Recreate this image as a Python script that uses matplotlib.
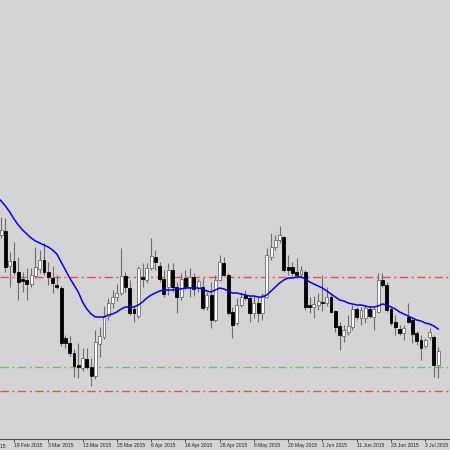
import numpy as np
import matplotlib.pyplot as plt

#* Daily candles, 5 Feb 2015 .. 8 Jul 2015 (bar 0 = 19 Feb 2015)
first_bar = -3

opens = [1222.5, 1224.5, 1207, 1209.5, 1204, 1200.5, 1200, 1198, 1202, 1205.5,
         1210, 1204, 1201, 1197.5, 1196, 1171, 1168.5, 1163.5, 1157.5, 1156,
         1160.5, 1156.5, 1152, 1168, 1171.5, 1182, 1188.5, 1191.5, 1193.5, 1202,
         1196, 1185.5, 1182, 1201.5, 1200, 1206, 1211.5, 1207, 1200.5, 1196.5,
         1205, 1196.5, 1191.5, 1201, 1196.5, 1201.5, 1196, 1196.5, 1186.5, 1192.5,
         1180, 1200, 1208.5, 1202.5, 1184, 1178.5, 1187.5, 1192.5, 1191, 1183.5,
         1188.5, 1183.5, 1191.5, 1211.5, 1216.5, 1220, 1221.5, 1206.5, 1206.5, 1204,
         1203, 1204, 1187.5, 1186.5, 1187.5, 1189, 1188.5, 1191.5, 1184.5, 1177,
         1172, 1174, 1176.5, 1185.5, 1181, 1181, 1185.5, 1181.5, 1184, 1200,
         1197.5, 1185.5, 1179, 1175.5, 1173.5, 1181.5, 1180, 1173.5, 1170, 1167,
         1171.5, 1171.5, 1157.5]
highs = [1231.5, 1231, 1214, 1219, 1211.5, 1204, 1206, 1206, 1216.5, 1215,
         1218.5, 1209, 1207, 1202.5, 1197, 1172.5, 1172, 1165.5, 1168.5, 1166,
         1166, 1161, 1175, 1176.5, 1187, 1191, 1195, 1198, 1216, 1204,
         1200, 1187.5, 1207, 1208.5, 1208.5, 1221, 1215, 1209, 1205, 1208.5,
         1208.5, 1199, 1203.5, 1205, 1206, 1203.5, 1200.5, 1201, 1194, 1199,
         1202.5, 1212.5, 1211.5, 1203.5, 1186.5, 1191, 1194, 1195, 1192, 1192.5,
         1191.5, 1193.5, 1216, 1223.5, 1222.5, 1227, 1222, 1212.5, 1209, 1211,
         1207, 1205, 1191.5, 1192, 1193.5, 1202.5, 1196.5, 1193.5, 1185, 1179,
         1177.5, 1182.5, 1187.5, 1186.5, 1186.5, 1187.5, 1187, 1186.5, 1203.5, 1203.5,
         1199, 1187, 1182.5, 1177.5, 1177.5, 1188.5, 1181, 1174.5, 1172.5, 1171,
         1176, 1172.5, 1166.5]
lows = [1221, 1204, 1196.5, 1202.5, 1190, 1194, 1190, 1196.5, 1201, 1203.5,
        1202.5, 1197.5, 1193.5, 1195.5, 1167, 1166, 1162, 1151.5, 1151, 1154.5,
        1155.5, 1147, 1150.5, 1161.5, 1170.5, 1180, 1186, 1189.5, 1192.5, 1194,
        1182.5, 1179, 1181, 1196.5, 1198.5, 1205, 1205, 1199, 1191.5, 1192.5,
        1194, 1183.5, 1190, 1195, 1191.5, 1192, 1194, 1185, 1185, 1176,
        1179, 1199.5, 1202, 1182.5, 1171, 1177.5, 1186.5, 1190, 1179, 1181,
        1179, 1180, 1191, 1210, 1215, 1218.5, 1204, 1202.5, 1202, 1201,
        1202, 1185, 1183.5, 1181, 1185, 1184.5, 1187, 1183.5, 1174, 1165,
        1169, 1172.5, 1175, 1180, 1177.5, 1178.5, 1181, 1175, 1183.5, 1196.5,
        1184, 1177.5, 1172.5, 1172.5, 1170, 1178.5, 1168.5, 1167.5, 1160, 1166,
        1170, 1151.5, 1151]
closes = [1225, 1206.5, 1209.5, 1204, 1199, 1199.5, 1198, 1202.5, 1206.5, 1210,
          1204, 1201.5, 1198.5, 1196.5, 1168.5, 1168.5, 1163.5, 1157, 1156.5, 1161,
          1156.5, 1152, 1169, 1172, 1182, 1188.5, 1191.5, 1193.5, 1202, 1196.5,
          1183.5, 1183.5, 1206, 1200.5, 1206, 1212, 1209, 1200.5, 1193, 1205,
          1196.5, 1191.5, 1200.5, 1196.5, 1201.5, 1195.5, 1199.5, 1186, 1192.5, 1180,
          1200, 1209, 1202.5, 1183.5, 1177.5, 1187.5, 1191.5, 1191, 1183.5, 1188.5,
          1183.5, 1192.5, 1212.5, 1216.5, 1220, 1222.5, 1205, 1205, 1203.5, 1202.5,
          1205, 1186.5, 1186.5, 1188, 1189.5, 1188.5, 1191.5, 1184, 1176.5, 1172.5,
          1175, 1177, 1185.5, 1181.5, 1185, 1186, 1182, 1185.5, 1200, 1197.5,
          1185, 1178.5, 1176.5, 1173.5, 1176, 1179, 1173, 1169.5, 1166, 1170,
          1174, 1157.5, 1164.5]

#* Moving average, one value per bar from bar -4
ma_first_bar = -4
ma_values = [1241.5, 1239.5, 1237, 1234, 1230.5, 1227.5, 1225, 1223, 1221, 1219.5,
             1218.5, 1217.5, 1216.5, 1215, 1213, 1209, 1205, 1201, 1197.5, 1194,
             1189, 1185.5, 1183, 1181.5, 1181.5, 1181.5, 1182.5, 1183, 1184, 1185.5,
             1186.5, 1186.5, 1186.5, 1187.5, 1189, 1191, 1192.5, 1193.5, 1194.5, 1195,
             1195, 1195, 1195.5, 1195.5, 1196, 1196, 1196, 1196, 1195.5, 1194.5,
             1194, 1195, 1196, 1195.5, 1194.5, 1193.5, 1193.5, 1193, 1192.5, 1192,
             1192, 1191.5, 1191.5, 1192.5, 1194.5, 1196.5, 1198.5, 1200, 1201, 1201,
             1201.5, 1201.5, 1200.5, 1199, 1198, 1197, 1196, 1194.5, 1193, 1191.5,
             1190, 1189.5, 1188.5, 1188, 1187.5, 1187.5, 1187, 1186.5, 1186.5, 1187,
             1188, 1187.5, 1186.5, 1185.5, 1184, 1183, 1182, 1181, 1180, 1179.5,
             1178.5, 1178, 1177, 1175.5]

#* Horizontal levels
red_levels = [1201.5, 1144.5]
green_levels = [1156.5]

#* Time axis (the 9 Feb label sits left of the view, only its tail shows)
tick_bars = [-8, 0, 8, 16, 24, 32, 40, 48, 56, 64, 72, 80, 88, 96]
tick_labels = ['9 Feb 2015', '19 Feb 2015', '3 Mar 2015', '13 Mar 2015', '25 Mar 2015',
               '6 Apr 2015', '16 Apr 2015', '28 Apr 2015', '8 May 2015', '20 May 2015',
               '1 Jun 2015', '11 Jun 2015', '23 Jun 2015', '3 Jul 2015']


def main() -> None:
  bg = '#d4d4d4'
  fig = plt.figure(figsize=(4.5, 4.5), dpi=100, facecolor=bg)
  ax = fig.add_axes([0, 11/450, 1, 439/450])
  ax.set_facecolor(bg)

  o = np.array(opens)
  h = np.array(highs)
  l = np.array(lows)
  c = np.array(closes)
  x = np.arange(len(o)) + first_bar
  up = c >= o

  #* levels
  dashdot = (0, (6, 2.5, 1.5, 2.5))
  for lv in red_levels:
    ax.axhline(lv, color='#e85050', lw=1.0, ls=dashdot, zorder=1)
  for lv in green_levels:
    ax.axhline(lv, color='#5ccc5c', lw=1.0, ls=dashdot, zorder=1)

  #* candles
  ax.vlines(x, l, h, color='#6e6e6e', lw=0.8, zorder=2)
  bottoms = np.minimum(o, c)
  heights = np.maximum(np.abs(c - o), 0.3)
  ax.bar(x[up], heights[up], bottom=bottoms[up], width=0.68,
         color='white', edgecolor='#6e6e6e', linewidth=0.6, zorder=3)
  ax.bar(x[~up], heights[~up], bottom=bottoms[~up], width=0.68,
         color='black', edgecolor='black', linewidth=0.6, zorder=3)

  #* moving average
  ma_x = np.arange(len(ma_values)) + ma_first_bar
  ax.plot(ma_x, ma_values, color='#0000ff', lw=1.1, zorder=4)

  #* axes, ticks first so the limits stay put
  for s in ['left', 'right', 'top']:
    ax.spines[s].set_visible(False)
  ax.spines['bottom'].set_color('#505050')
  ax.spines['bottom'].set_linewidth(0.8)
  ax.set_yticks([])
  ax.set_xticks(tick_bars)
  ax.set_xticklabels(tick_labels, fontsize=3.6, family='Liberation Sans',
                     color='#202020', ha='left')
  ax.tick_params(axis='x', direction='out', length=2.2, width=0.6,
                 color='#404040', pad=1)
  ax.set_xlim(-3.268, 101.77)
  ax.set_ylim(1120.5, 1340)

  #* tick outside the view is dropped, so put its label by hand
  ax.text(tick_bars[0], -0.0105, tick_labels[0], transform=ax.get_xaxis_transform(),
          ha='left', va='top', fontsize=3.6, family='Liberation Sans',
          color='#202020', clip_on=False)

  fig.savefig('out.png', dpi=100, facecolor=bg)


if __name__ == "__main__":
  main()
